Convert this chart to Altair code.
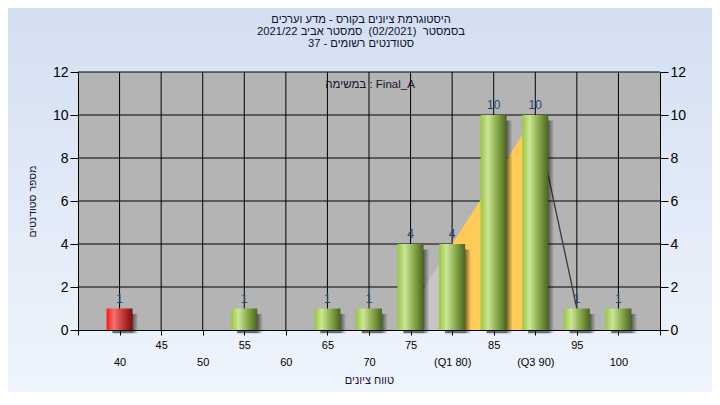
import altair as alt
import pandas as pd

# ---------------- data ----------------
GRADES = [40, 55, 65, 70, 75, 80, 85, 90, 95, 100]
COUNTS = [1, 1, 1, 1, 4, 4, 10, 10, 1, 1]
STATUS = ["fail", "pass", "pass", "pass", "pass", "pass", "pass", "pass", "pass", "pass"]

TICK_VALUES = [35, 40, 45, 50, 55, 60, 65, 70, 75, 80, 85, 90, 95, 100, 105]
TICK_LABELS = ["", "40", "45", "50", "55", "60", "65", "70", "75", "(Q1 80)", "85", "(Q3 90)", "95", "100", ""]
GRID_X = [40, 45, 50, 55, 60, 65, 70, 75, 80, 85, 90, 95, 100]
Y_TICKS = [0, 2, 4, 6, 8, 10, 12]
GRID_Y = [2, 4, 6, 8, 10, 12]

CURVE_X = [73.3, 80, 90, 95]
CURVE_Y = [0, 4, 10, 1]

TITLE_LINES = [
    "היסטוגרמת ציונים בקורס - מדע וערכים",
    "בסמסטר \u00a0(02/2021) \u00a0סמסטר אביב 2021/22",
    "סטודנטים רשומים - 37",
]
TASK_LABEL = "במשימה : Final_A"
X_TITLE = "טווח ציונים"
Y_TITLE = "מספר סטודנטים"

# ---------------- layout / style ----------------
W, H = 582, 258
PAD_L, PAD_T, PAD_R, PAD_B = 70, 64, 52, 62
FONT = "Liberation Sans"

bars_df = pd.DataFrame({"grade": GRADES, "count": COUNTS, "status": STATUS})
curve_df = pd.DataFrame({"x": CURVE_X, "y": CURVE_Y})
one = pd.DataFrame({"k": [0]})

xscale = alt.Scale(domain=[35, 105], nice=False, zero=False, padding=0)
yscale = alt.Scale(domain=[0, 12], nice=False, padding=0)

label_expr = ""
for v, lab in zip(TICK_VALUES, TICK_LABELS):
    if lab == "":
        txt = "''"
    elif v % 10 == 5:
        txt = f"'{lab}'"
    else:
        txt = f"['', '{lab}']"
    label_expr += f"datum.value == {v} ? {txt} : "
label_expr += "''"

x_axis = alt.Axis(
    values=TICK_VALUES, labelExpr=label_expr, grid=False, zindex=1,
    domainColor="black", tickColor="black", tickSize=5, labelColor="black",
    labelFont=FONT, labelFontSize=11, labelLineHeight=17, labelPadding=4,
    labelOverlap=False, labelFlush=False, labelBound=False,
    title=X_TITLE, titleFont=FONT, titleFontSize=11, titleFontWeight="normal",
    titleColor="#1a1030", titlePadding=7,
)
y_axis_left = alt.Axis(
    values=Y_TICKS, grid=False, zindex=1, orient="left",
    domainColor="black", tickColor="black", tickSize=8, labelColor="black",
    labelFont=FONT, labelFontSize=14, labelPadding=2,
    title=Y_TITLE, titleFont=FONT, titleFontSize=10.5, titleFontWeight="normal",
    titleColor="#1a1030", titlePadding=15,
)
y_axis_right = alt.Axis(
    values=Y_TICKS, grid=False, zindex=1, orient="right",
    domainColor="black", tickColor="black", tickSize=8, labelColor="black",
    labelFont=FONT, labelFontSize=14, labelPadding=2, title=None,
)


def grad(stops, horizontal=True):
    return alt.LinearGradient(
        gradient="linear",
        stops=[alt.GradientStop(color=c, offset=o) for o, c in stops],
        x1=0, x2=1 if horizontal else 0, y1=0, y2=0 if horizontal else 1,
    )


bg_grad = grad([(0, "#d3dff1"), (1, "#eff5fd")], horizontal=False)
green_grad = grad([(0, "#98c93a"), (0.28, "#cce59a"), (0.55, "#98b85a"),
                   (0.8, "#6b8a35"), (1, "#4b6422")])
red_grad = grad([(0, "#ff1414"), (0.28, "#f27272"), (0.6, "#c83c3c"), (1, "#7a0c0c")])
shadow_grad = grad([(0, "rgba(0,0,0,0.55)"), (0.76, "rgba(0,0,0,0.55)"), (1, "rgba(0,0,0,0)")])

# background of the whole page and of the plot area
bg = alt.Chart(one).mark_rect(color=bg_grad).encode(
    x=alt.value(-PAD_L), x2=alt.value(W + PAD_R), y=alt.value(-PAD_T), y2=alt.value(H + PAD_B)
)
plot_bg = alt.Chart(one).mark_rect(color="#b4b4b4").encode(
    x=alt.value(0), x2=alt.value(W), y=alt.value(0), y2=alt.value(H)
)

vgrid = alt.Chart(pd.DataFrame({"v": GRID_X})).mark_rule(color="black", strokeWidth=1).encode(
    x=alt.X("v:Q", scale=xscale, axis=x_axis)
)
hgrid = alt.Chart(pd.DataFrame({"v": GRID_Y})).mark_rule(color="black", strokeWidth=1).encode(
    y=alt.Y("v:Q", scale=yscale, axis=None)
)

curve_x = alt.X("x:Q", scale=xscale, axis=x_axis)
curve_y = alt.Y("y:Q", scale=yscale, axis=None)
gray_area = alt.Chart(curve_df).transform_filter("datum.x <= 80").mark_area(color="#c5c5c5").encode(
    x=curve_x, y=curve_y)
orange_area = alt.Chart(curve_df).transform_filter("datum.x >= 80 && datum.x <= 90").mark_area(
    color="#ffca58").encode(x=curve_x, y=curve_y)
down_line = alt.Chart(curve_df).transform_filter("datum.x >= 90").mark_line(
    color="#3a3a3a", strokeWidth=1.3).encode(x=curve_x, y=curve_y)

shadow = alt.Chart(bars_df).transform_calculate(
    xs="datum.grade + 0.7", top="datum.count - 0.25", bot="-0.15"
).mark_bar(size=26, color=shadow_grad).encode(
    x=alt.X("xs:Q", scale=xscale, axis=x_axis),
    y=alt.Y("top:Q", scale=yscale, axis=None),
    y2="bot:Q",
)

green = alt.Chart(bars_df).transform_filter("datum.status == 'pass'").mark_bar(
    size=26, color=green_grad).encode(
    x=alt.X("grade:Q", scale=xscale, axis=x_axis),
    y=alt.Y("count:Q", scale=yscale, axis=y_axis_left),
)
red = alt.Chart(bars_df).transform_filter("datum.status == 'fail'").mark_bar(
    size=26, color=red_grad).encode(
    x=alt.X("grade:Q", scale=xscale, axis=x_axis),
    y=alt.Y("count:Q", scale=yscale, axis=None),
)
labels = alt.Chart(bars_df).mark_text(
    baseline="alphabetic", dy=-6, font=FONT, fontSize=12, color="#2a4868").encode(
    x=alt.X("grade:Q", scale=xscale, axis=x_axis),
    y=alt.Y("count:Q", scale=yscale, axis=y_axis_right),
    text="count:Q",
)
task = alt.Chart(one).mark_text(font=FONT, fontSize=11.5, color="#1a1030", baseline="middle").encode(
    x=alt.value(W / 2 + 1), y=alt.value(13), text=alt.value(TASK_LABEL)
)

chart = alt.layer(
    bg, plot_bg, vgrid, hgrid, gray_area, orange_area, down_line, shadow, green, red, labels, task
).resolve_axis(y="independent").properties(
    width=W, height=H,
    autosize=alt.AutoSizeParams(type="none"),
    padding={"left": PAD_L, "top": PAD_T, "right": PAD_R, "bottom": PAD_B},
    title=alt.TitleParams(
        text=TITLE_LINES, font=FONT, fontSize=11.2, fontWeight="normal", color="#101030",
        anchor="middle", frame="group", dx=-8, offset=0, dy=41.5, lineHeight=12.3,
    ),
).configure_view(stroke=None)

chart.save("out.html", embed_options={"renderer": "svg", "actions": False})
